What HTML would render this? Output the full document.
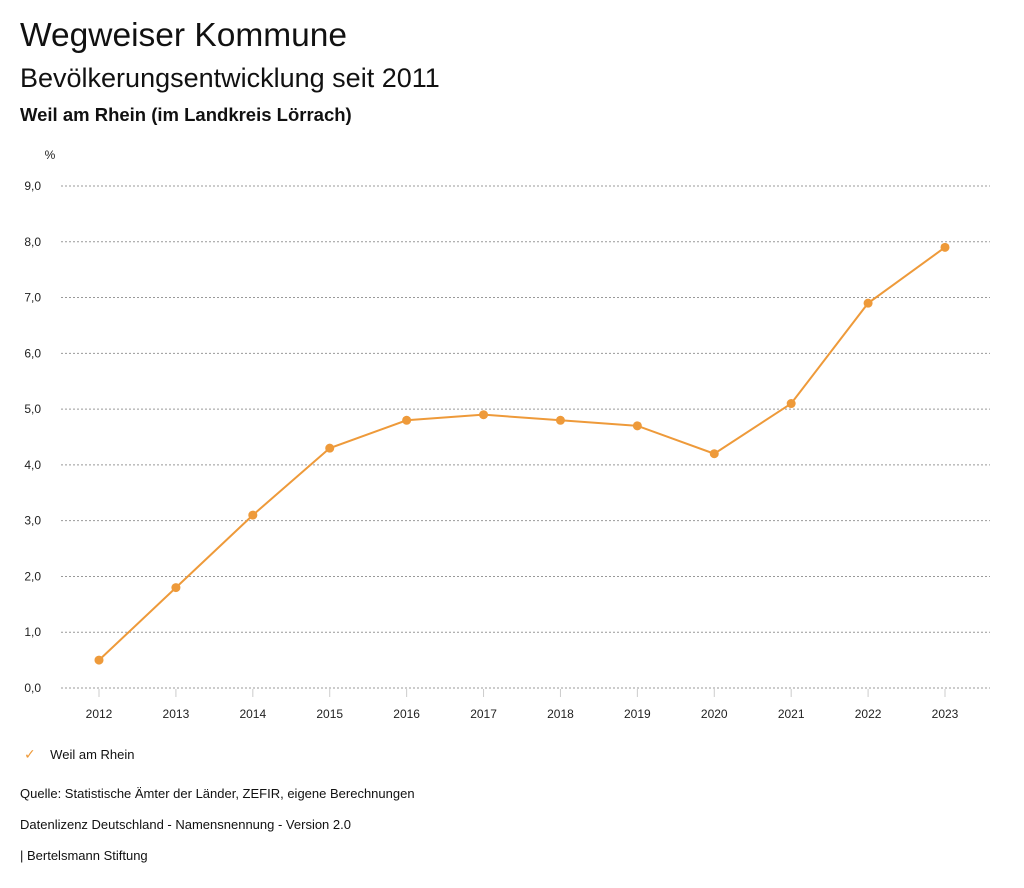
<!DOCTYPE html>
<html><head><meta charset="utf-8"><style>
body{margin:0;background:#fff;font-family:"Liberation Sans","DejaVu Sans",sans-serif;color:#111;}
#wrap{position:relative;width:1024px;height:888px;overflow:hidden;}
.t{position:absolute;white-space:nowrap;}
</style></head><body>
<div id="wrap">
<div class="t" style="left:20px;top:17px;font-size:33.5px;">Wegweiser Kommune</div>
<div class="t" style="left:20px;top:63px;font-size:27px;">Bevölkerungsentwicklung seit 2011</div>
<div class="t" style="left:20px;top:104px;font-size:18.5px;font-weight:bold;">Weil am Rhein (im Landkreis Lörrach)</div>
<svg id="chart" width="1024" height="888" style="position:absolute;left:0;top:0"></svg>
<div class="t" style="left:24px;top:746px;font-size:13px;"><span style="color:#ee9a3a;font-size:14px;">✓</span>&nbsp;&nbsp;&nbsp;&nbsp;Weil am Rhein</div>
<div class="t" style="left:20px;top:786px;font-size:13px;">Quelle: Statistische Ämter der Länder, ZEFIR, eigene Berechnungen</div>
<div class="t" style="left:20px;top:817px;font-size:13px;">Datenlizenz Deutschland - Namensnennung - Version 2.0</div>
<div class="t" style="left:20px;top:848px;font-size:13px;">| Bertelsmann Stiftung</div>
</div>
<script>
const years=[2012,2013,2014,2015,2016,2017,2018,2019,2020,2021,2022,2023];
const values=[0.5,1.8,3.1,4.3,4.8,4.9,4.8,4.7,4.2,5.1,6.9,7.9];
const yTicks=[0,1,2,3,4,5,6,7,8,9];
const NS="http://www.w3.org/2000/svg";
const svg=document.getElementById('chart');
const x=i=>99+i*(945-99)/11;
const y=v=>688-v*(688-186)/9;
function mk(t,a){const e=document.createElementNS(NS,t);for(const k in a)e.setAttribute(k,a[k]);svg.appendChild(e);return e;}
const u=mk('text',{x:50,y:159,'font-size':12,'text-anchor':'middle',fill:'#222'});u.textContent='%';


yTicks.forEach(v=>{
 const l=mk('line',{x1:61,x2:990,y1:y(v),y2:y(v),stroke:'#999','stroke-dasharray':'2,2','stroke-width':1});
 
 
 const t=mk('text',{x:41,y:y(v)+4,'font-size':12,'text-anchor':'end',fill:'#222'});
 t.textContent=v.toFixed(1).replace('.',',');
 
 
});
years.forEach((yr,i)=>{
 const l=mk('line',{x1:x(i),x2:x(i),y1:689,y2:697,stroke:'#ccc'});
 
 
 const t=mk('text',{x:x(i),y:718,'font-size':12,'text-anchor':'middle',fill:'#222'});
 t.textContent=yr;
 
 
});
const p=mk('polyline',{points:values.map((v,i)=>x(i)+','+y(v)).join(' '),fill:'none',stroke:'#ee9a3a','stroke-width':2});


values.forEach((v,i)=>{
 const c=mk('circle',{cx:x(i),cy:y(v),r:4.5,fill:'#ee9a3a'});
 
 
});
</script>
</body></html>
